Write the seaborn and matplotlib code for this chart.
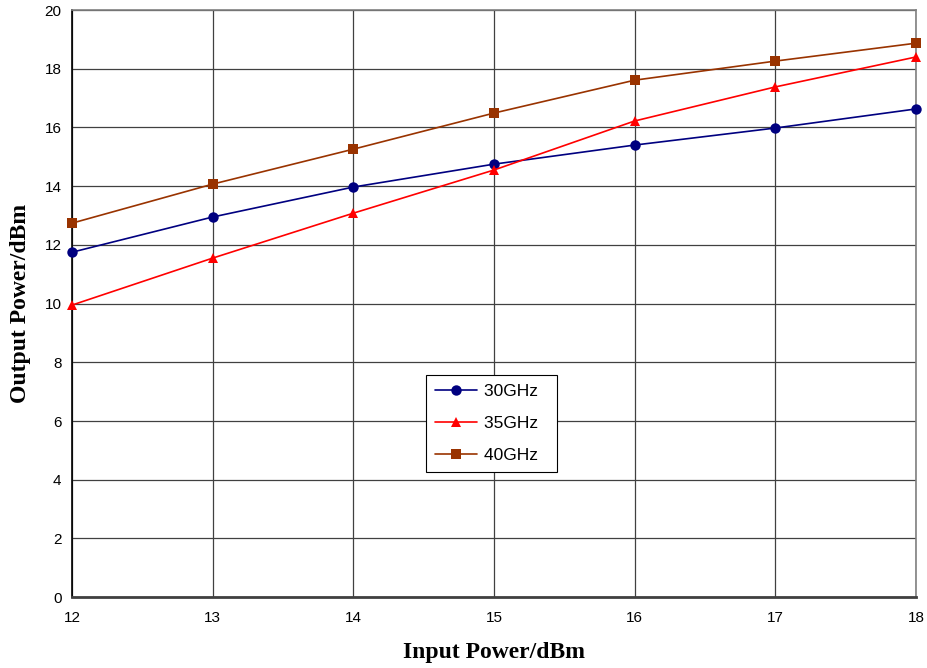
import matplotlib.pyplot as plt
import pandas as pd
import seaborn as sns

# values
input_power = [12, 13, 14, 15, 16, 17, 18]
out_30ghz = [11.75, 12.95, 13.97, 14.75, 15.4, 15.98, 16.63]
out_35ghz = [9.95, 11.55, 13.08, 14.55, 16.22, 17.38, 18.4]
out_40ghz = [12.74, 14.07, 15.26, 16.49, 17.61, 18.26, 18.87]
series_names = ['30GHz', '35GHz', '40GHz']

df = pd.DataFrame({
    'Input': input_power * 3,
    'Output': out_30ghz + out_35ghz + out_40ghz,
    'Freq': [n for n in series_names for _ in input_power],
})

sns.set_style('white')
plt.rcParams['font.family'] = ['Liberation Sans', 'DejaVu Sans']
plt.rcParams['text.color'] = 'black'
plt.rcParams['axes.labelcolor'] = 'black'
plt.rcParams['xtick.color'] = 'black'
plt.rcParams['ytick.color'] = 'black'

fig, ax = plt.subplots(figsize=(9.27, 6.68), dpi=100)
fig.subplots_adjust(left=0.0777, right=0.988, top=0.985, bottom=0.106)

colors = {'30GHz': '#000080', '35GHz': '#ff0000', '40GHz': '#993300'}
markers = {'30GHz': 'o', '35GHz': '^', '40GHz': 's'}

sns.lineplot(
    data=df, x='Input', y='Output', hue='Freq', style='Freq',
    palette=colors, markers=markers, dashes=False,
    markersize=7.5, markeredgewidth=0, linewidth=1.2, ax=ax,
    clip_on=False, zorder=3,
)

ax.set_xlim(12, 18)
ax.set_ylim(0, 20)
ax.set_xticks(input_power)
ax.set_yticks(range(0, 21, 2))
ax.grid(True, color='#404040', linewidth=0.9)
ax.set_axisbelow(True)
ax.tick_params(axis='both', labelsize=11, length=4, direction='out')
ax.tick_params(axis='x', pad=6)
for s in ax.spines.values():
    s.set_color('#808080')
    s.set_linewidth(1.2)
ax.spines['left'].set_color('black')
ax.spines['bottom'].set_color('#404040')
ax.spines['bottom'].set_linewidth(2)

ax.set_xlabel('Input Power/dBm', family='Liberation Serif', fontweight='bold',
              fontsize=17, labelpad=12)
ax.set_ylabel('Output Power/dBm', family='Liberation Serif', fontweight='bold',
              fontsize=17, labelpad=10)

# legend labels padded a bit so the box is as wide as the original
leg = ax.legend(title=None, loc='center', bbox_to_anchor=(0.497, 0.296),
                fontsize=12.5, frameon=True, fancybox=False, framealpha=1,
                edgecolor='black', borderpad=0.55, labelspacing=0.95,
                handlelength=2.4, handletextpad=0.4, borderaxespad=0)
leg.get_frame().set_linewidth(0.8)
leg.set_zorder(5)
for t in leg.get_texts():
    t.set_text(t.get_text() + '  ')

fig.savefig('out.png', dpi=100)
